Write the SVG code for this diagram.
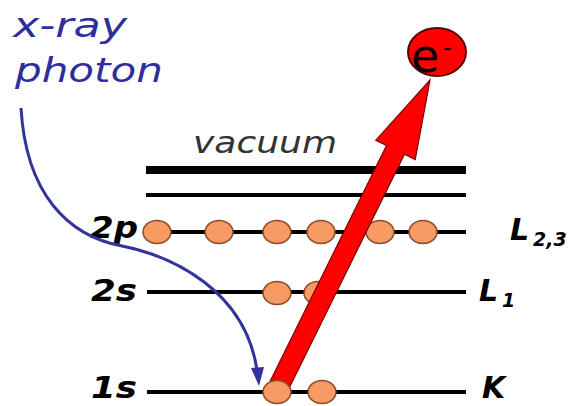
<svg xmlns="http://www.w3.org/2000/svg" width="581" height="406" viewBox="0 0 581 406">
<style>
.lvl{stroke:#000;stroke-width:4;fill:none}
.el{fill:#f79a64;stroke:#8a4a2a;stroke-width:1.5}
.lab{font-family:"DejaVu Sans",Verdana,sans-serif;font-weight:bold;font-style:italic;fill:#000}
.sub{font-family:"DejaVu Sans",Verdana,sans-serif;font-weight:bold;font-style:italic;fill:#000;font-size:19px}
</style>
<rect width="581" height="406" fill="#fff"/>
<g id="levels">
<line x1="146" y1="170" x2="466" y2="170" stroke="#000" stroke-width="8"/>
<line class="lvl" x1="146" y1="195" x2="466" y2="195"/>
<line class="lvl" x1="146" y1="232" x2="466" y2="232"/>
<line class="lvl" x1="147" y1="292" x2="466" y2="292"/>
<line class="lvl" x1="147" y1="392" x2="466" y2="392"/>
</g>
<g id="labels">
<text x="193" y="153" font-family="DejaVu Sans,Verdana,sans-serif" font-style="italic" font-size="30" fill="#333" textLength="144" lengthAdjust="spacingAndGlyphs">vacuum</text>
<text class="lab" x="90" y="238" font-size="31" textLength="48" lengthAdjust="spacingAndGlyphs">2p</text>
<text class="lab" x="91" y="301" font-size="31" textLength="46" lengthAdjust="spacingAndGlyphs">2s</text>
<text class="lab" x="91" y="398" font-size="30" textLength="46" lengthAdjust="spacingAndGlyphs">1s</text>
<text class="lab" x="510" y="240" font-size="30">L</text>
<text class="sub" x="533" y="246">2,3</text>
<text class="lab" x="479" y="301" font-size="30">L</text>
<text class="sub" x="502" y="307">1</text>
<text class="lab" x="482" y="398" font-size="30">K</text>
<text x="13" y="37" font-family="DejaVu Sans,Verdana,sans-serif" font-style="italic" font-size="34" fill="#2e2e9e" textLength="114" lengthAdjust="spacingAndGlyphs">x-ray</text>
<text x="15" y="82" font-family="DejaVu Sans,Verdana,sans-serif" font-style="italic" font-size="34" fill="#2e2e9e" textLength="148" lengthAdjust="spacingAndGlyphs">photon</text>
</g>
<g id="electrons">
<ellipse class="el" cx="157" cy="232" rx="14" ry="11.5"/>
<ellipse class="el" cx="219" cy="232" rx="14" ry="11.5"/>
<ellipse class="el" cx="277" cy="232" rx="14" ry="11.5"/>
<ellipse class="el" cx="321" cy="232" rx="14" ry="11.5"/>
<ellipse class="el" cx="380" cy="232" rx="14" ry="11.5"/>
<ellipse class="el" cx="423" cy="232" rx="14" ry="11.5"/>
<ellipse class="el" cx="277" cy="293" rx="14" ry="11.5"/>
<ellipse class="el" cx="318" cy="293" rx="14" ry="11.5"/>
<ellipse class="el" cx="322" cy="392" rx="14" ry="11.5"/>
</g>
<g id="connectors">
<polygon points="269,383.6 386.5,145.5 375.8,140.2 430,80 415.2,159.6 404.5,154.3 287,392.4" fill="#ff0000" stroke="#7a0000" stroke-width="1.2"/>
<path d="M21,108 C26,194 68,236 122,246 C172,256 245,290 257,370" fill="none" stroke="#33339c" stroke-width="3"/>
<polygon points="251,368 264,367 259,386" fill="#33339c"/>
</g>
<g id="k-electron">
<ellipse class="el" cx="277" cy="392" rx="14" ry="11.5"/>
</g>
<g id="free-electron">
<ellipse cx="437" cy="52" rx="29" ry="24" fill="#ff0000" stroke="#5a0000" stroke-width="2"/>
<text x="411" y="72" font-family="DejaVu Sans,Verdana,sans-serif" font-size="46" fill="#000">e</text>
<text x="443" y="56" font-family="DejaVu Sans,Verdana,sans-serif" font-size="24" fill="#000">-</text>
</g>
</svg>
